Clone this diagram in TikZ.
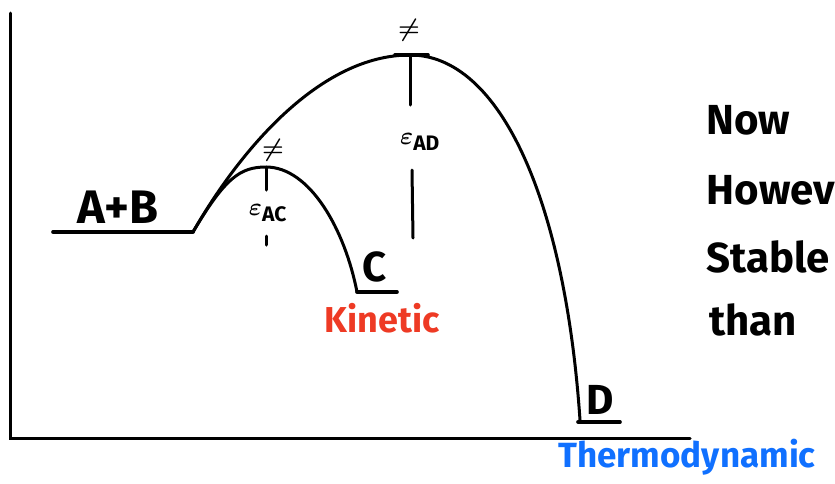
\documentclass[tikz,border=0pt]{standalone}
\usepackage{fontspec}
\setmainfont{Fira Sans}
\usepackage{xcolor}
\definecolor{Kin}{RGB}{238,58,36}
\definecolor{Thermo}{RGB}{16,112,255}

\begin{document}
\begin{tikzpicture}[x=1pt,y=-1pt,line width=3pt,line cap=round,
  lbl/.style={font=\fontsize{42}{42}\selectfont\bfseries, inner sep=0pt},
  side/.style={lbl, anchor=west, font=\fontsize{42}{42}\selectfont\bfseries},
  ts/.style={inner sep=0pt, font=\fontsize{34}{34}\selectfont\boldmath},
  ea/.style={inner sep=0pt, font=\fontsize{30}{30}\selectfont\boldmath}]
\useasboundingbox (0,0) rectangle (835,483);
\clip (0,0) rectangle (835,483);

% axes
\draw (10,13) -- (10,438) -- (690,438);

\coordinate (ab) at (193,232);
\coordinate (tsc) at (266,167);
\coordinate (tsd) at (410,55);
\coordinate (c) at (357,292);
\coordinate (d) at (580,420);

% levels
\draw[line width=3.6pt] (53,232) -- (ab);
\draw[line width=3.6pt] (c) -- (397,292);
\draw[line width=3.6pt] (578,422) -- (620,422);
\draw[line width=3.6pt] (395,55) -- (428,55);

% paths
\draw (ab) .. controls (225,178) and (240,167) .. (tsc) .. controls (310,167) and (345,230) .. (c);
\draw (ab) .. controls (240,150) and (320,55) .. (tsd) .. controls (500,55) and (565,200) .. (d);

% barriers
\draw (tsc) -- (266,190);
\draw (266,236) -- (266,245);
\draw (tsd) -- (410,105);
\draw (412,170) -- (413,238);

\node[lbl, font=\fontsize{47}{47}\selectfont\bfseries] (reac) at (118,207) {A+B};
\node[lbl] (prodc) at (375,267) {C};
\node[lbl] (prodd) at (600,400) {D};
\node[ts] (dagc) at (273,150) {$\neq$};
\node[ts] (dagd) at (409,30) {$\neq$};
\node[ea] (eac) at (268,213) {$\varepsilon_{\mathrm{AC}}$};
\node[ea] (ead) at (420,142) {$\varepsilon_{\mathrm{AD}}$};

\node[lbl, Kin, font=\fontsize{36}{36}\selectfont\bfseries] (kin) at (382,318) {Kinetic};
\node[lbl, Thermo, anchor=west, font=\fontsize{35}{35}\selectfont\bfseries] (thermo) at (557,457) {Thermodynamic};

\node[side] (now) at (705,120) {Now};
\node[side] (how) at (705,190) {However};
\node[side] (stab) at (705,257) {Stable};
\node[side] (than) at (708,320) {than};
\end{tikzpicture}
\end{document}
